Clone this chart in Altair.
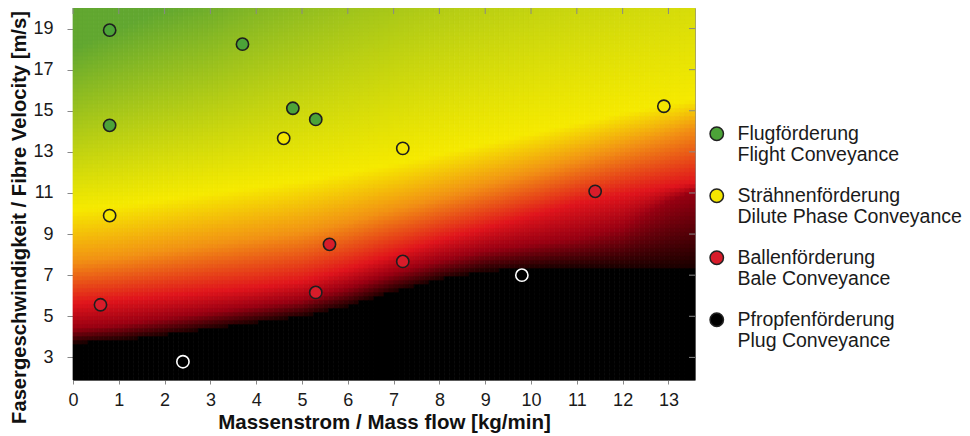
import altair as alt
import numpy as np
import pandas as pd

# ---------------- data ----------------
cat_labels = [
    "Flugförderung|Flight Conveyance",
    "Strähnenförderung|Dilute Phase Conveyance",
    "Ballenförderung|Bale Conveyance",
    "Pfropfenförderung|Plug Conveyance",
]
cat_colors = ["#4ca338", "#f4e600", "#d81c2a", "#000000"]

pt_x = [0.8, 3.7, 4.8, 5.3, 0.8,
        4.6, 7.2, 12.9, 0.8,
        11.4, 5.6, 7.2, 5.3, 0.6,
        2.4, 9.8]
pt_y = [18.92, 18.24, 15.12, 14.58, 14.29,
        13.66, 13.17, 15.22, 9.9,
        11.08, 8.5, 7.67, 6.16, 5.56,
        2.79, 7.0]
pt_cat = [0] * 5 + [1] * 4 + [2] * 5 + [3] * 2

x_ticks = list(range(0, 14))
y_ticks = [3, 5, 7, 9, 11, 13, 15, 17, 19]

# regime-map boundaries (y level of each colour stop) read at these mass flows
f_x = [0, 1, 2, 3, 4, 5, 6, 7, 8, 9, 10, 11, 12, 13, 13.6]
f_black = [3.7, 3.85, 4.1, 4.4, 4.7, 5.0, 5.5, 6.2, 6.8, 7.2, 7.35, 7.4, 7.4, 7.4, 7.4]
f_dark = [4.4, 4.6, 4.9, 5.2, 5.5, 5.8, 6.4, 7.1, 7.7, 8.2, 8.5, 8.8, 9.3, 10.6, 11.1]
f_red = [5.6, 5.8, 6.0, 6.2, 6.4, 6.7, 7.3, 8.0, 8.7, 9.3, 9.9, 10.5, 10.9, 11.3, 11.5]
f_orange = [7.7, 7.9, 8.2, 8.5, 8.8, 9.1, 9.6, 10.2, 10.8, 11.4, 12.0, 12.6, 13.2, 13.8, 14.2]
f_yellow = [10.2, 10.4, 10.7, 11.0, 11.3, 11.6, 12.0, 12.4, 12.9, 13.4, 13.9, 14.4, 14.9, 15.3, 15.6]
f_green = [18.0, 19.0, 20.0, 21.0, 22.5, 24.0, 25.5, 27.0, 28.5, 30.0, 31.5, 33.0, 34.5, 36.0, 37.0]

map_stops = [-1, 0, 1, 2, 3, 4, 5]
map_colors = ["#000000", "#1c0000", "#980012", "#e0141c", "#f29214", "#f6ea00", "#62a830"]

X_MIN, X_MAX = 0.0, 13.58
Y_MIN, Y_MAX = 1.9, 20.0

# ---------------- build tables ----------------
pts = pd.DataFrame({"px": pt_x, "py": pt_y, "cat": [cat_labels[i] for i in pt_cat]})

nx, ny = 124, 93
xe = np.linspace(X_MIN, X_MAX, nx + 1)
ye = np.linspace(Y_MIN, Y_MAX, ny + 1)
levels = [f_black, f_dark, f_red, f_orange, f_yellow, f_green]
rows = []
for i in range(nx):
    xc = 0.5 * (xe[i] + xe[i + 1])
    L = [float(np.interp(xc, f_x, lv)) for lv in levels]
    for j in range(ny):
        yc = 0.5 * (ye[j] + ye[j + 1])
        if yc < L[0]:
            t = -1.0
        elif yc >= L[-1]:
            t = 5.0
        else:
            t = 5.0
            for k in range(5):
                if yc < L[k + 1]:
                    t = k + (yc - L[k]) / (L[k + 1] - L[k])
                    break
        rows.append((xe[i], xe[i + 1], ye[j], ye[j + 1], t))
heat_df = pd.DataFrame(rows, columns=["x0", "x1", "y0", "y1", "t"])

tick_x_df = pd.DataFrame({"tx": x_ticks})
tick_y_df = pd.DataFrame({"ty": y_ticks})

# ---------------- chart ----------------
W, H = 622, 372
FONT = "Liberation Sans"

xscale = alt.Scale(domain=[X_MIN, X_MAX], nice=False, zero=False)
yscale = alt.Scale(domain=[Y_MIN, Y_MAX], nice=False, zero=False)

xaxis = alt.Axis(
    title="Massenstrom / Mass flow [kg/min]", values=x_ticks, grid=False, domain=False,
    tickSize=4, tickColor="#888888", labelFontSize=18, labelFont=FONT, labelColor="#1a1a1a",
    labelPadding=7, titleFont=FONT, titleFontSize=20.5, titleFontWeight="bold",
    titleColor="#111111", titleY=48, titleBaseline="alphabetic", labelFlush=False,
)
yaxis = alt.Axis(
    title="Fasergeschwindigkeit / Fibre Velocity [m/s]", values=y_ticks, grid=False,
    domain=False, tickSize=6, tickColor="#888888", labelFontSize=18, labelFont=FONT,
    labelColor="#1a1a1a", labelPadding=14, titleFont=FONT, titleFontSize=20.2,
    titleFontWeight="bold", titleColor="#111111", titleX=-54, titleY=209,
    titleBaseline="middle", titleAlign="center", titleAngle=270, labelFlush=False,
)

cscale = alt.Scale(domain=map_stops, range=map_colors, interpolate="rgb")

heat = alt.Chart(heat_df).mark_rect(strokeWidth=0.7).encode(
    x=alt.X("x0:Q", scale=xscale, axis=xaxis),
    x2="x1:Q",
    y=alt.Y("y0:Q", scale=yscale, axis=yaxis),
    y2="y1:Q",
    fill=alt.Fill("t:Q", scale=cscale, legend=None),
    stroke=alt.Stroke("t:Q", scale=cscale, legend=None),
)

top_ticks = alt.Chart(tick_x_df).mark_rule(color="#888888", strokeWidth=1).encode(
    x=alt.X("tx:Q", scale=xscale, axis=xaxis),
    y=alt.value(0), y2=alt.value(6),
)
right_ticks = alt.Chart(tick_y_df).mark_rule(color="#888888", strokeWidth=1).encode(
    y=alt.Y("ty:Q", scale=yscale, axis=yaxis),
    x=alt.value(W - 6), x2=alt.value(W),
)

points = alt.Chart(pts).mark_point(
    shape="circle", filled=True, size=150, strokeWidth=1.6, opacity=1
).encode(
    x=alt.X("px:Q", scale=xscale, axis=xaxis),
    y=alt.Y("py:Q", scale=yscale, axis=yaxis),
    fill=alt.Fill(
        "cat:N",
        scale=alt.Scale(domain=cat_labels, range=cat_colors),
        legend=alt.Legend(
            title=None, orient="none", legendX=634, legendY=116,
            labelExpr="split(datum.label, '|')", labelFontSize=19.5, labelFont=FONT,
            labelColor="#1a1a1a", symbolSize=180, symbolStrokeWidth=1.5,
            symbolStrokeColor="#222222", symbolType="circle", labelOffset=11,
            rowPadding=20, padding=0, labelLimit=400,
        ),
    ),
    stroke=alt.condition(
        alt.datum.cat == cat_labels[3], alt.value("#ffffff"), alt.value("#1e1e1e")
    ),
)

chart = (
    alt.layer(heat, top_ticks, right_ticks, points)
    .resolve_scale(fill="independent", stroke="independent")
    .properties(
        width=W, height=H,
        autosize=alt.AutoSizeParams(type="none"),
        padding={"left": 65, "top": 0, "right": 267, "bottom": 56},
        background="#ffffff",
    )
    .configure_view(stroke="#8a8a8a", strokeWidth=1)
)

chart.save("out.html", embed_options={"renderer": "svg", "actions": False})
